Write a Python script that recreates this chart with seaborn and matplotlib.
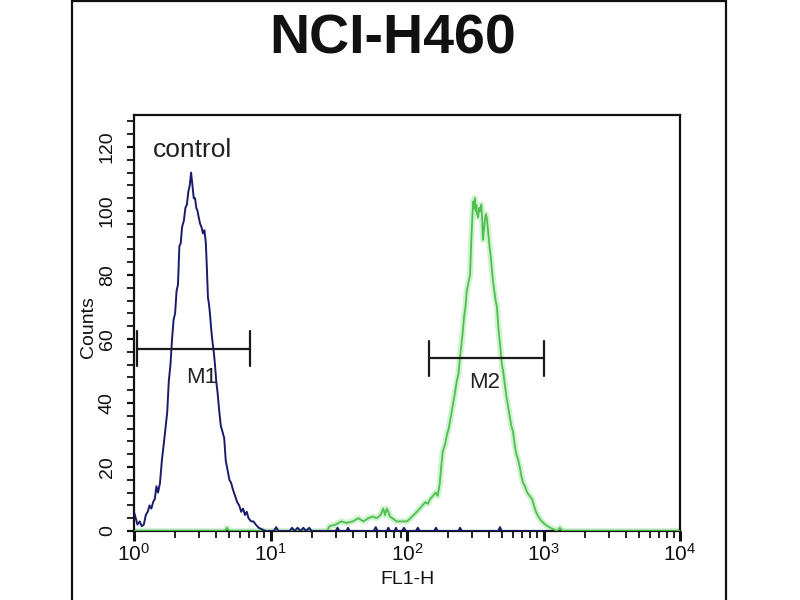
import numpy as np
import pandas as pd
import seaborn as sns
import matplotlib
matplotlib.use("Agg")
import matplotlib.pyplot as plt
from matplotlib.ticker import MultipleLocator, LogLocator, LogFormatterMathtext, NullFormatter
from matplotlib.patches import Rectangle

# ---------------- data ----------------
title = "NCI-H460"
x_label = "FL1-H"
y_label = "Counts"

# control histogram (navy)
control_fl1 = [1.00, 1.03, 1.06, 1.10, 1.14, 1.18, 1.22, 1.26, 1.30, 1.34, 1.38, 1.42, 1.46, 1.50,
               1.55, 1.60, 1.65, 1.70, 1.75, 1.80, 1.85, 1.90, 1.95, 2.00, 2.05, 2.10, 2.15, 2.20,
               2.25, 2.32, 2.38, 2.44, 2.50, 2.56, 2.62, 2.68, 2.74, 2.80, 2.86, 2.92, 2.98, 3.05,
               3.12, 3.20, 3.28, 3.36, 3.42, 3.48, 3.54, 3.60, 3.68, 3.76, 3.84, 3.92, 4.00, 4.10,
               4.20, 4.32, 4.45, 4.58, 4.70, 4.85, 5.00, 5.15, 5.30, 5.50, 5.70, 5.90, 6.10, 6.30,
               6.50, 6.70, 6.90, 7.20, 7.50, 7.80, 8.20, 8.70, 9.20,
               10.6, 11.0, 11.4, 13.8, 14.4, 15.0, 15.8, 16.6, 17.4, 18.2, 19.2, 20.0, 30.0, 31.0,
               32.0, 36.0, 37.0, 38.0, 57.0, 59.0, 61.0, 71.0, 73.0, 75.0, 81.0, 83.0, 85.0, 92.0,
               95.0, 98.0, 116.0, 120.0, 124.0, 158.0, 163.0, 168.0, 238.0, 245.0, 252.0, 465.0,
               480.0, 495.0, 1100.0]
control_counts = [6, 4, 2, 3, 1.5, 2, 5, 6, 8, 7, 9, 10, 14, 12,
                  15, 22, 27, 32, 37, 47, 52, 60, 66, 68, 75, 77, 89, 90,
                  95, 97, 101, 102, 106, 108, 112, 108, 104, 104, 101, 100, 98, 96,
                  95, 93, 94, 90, 82, 73, 71, 68, 63, 59, 56, 52, 47, 43,
                  38, 33, 31, 29, 22, 19, 16, 15, 13, 11, 9, 8, 6, 7,
                  5, 6, 4, 3, 3, 2, 1, 0.5, 0,
                  0, 1.2, 0, 0, 1, 0, 1, 0, 1, 0, 1, 0, 0, 1,
                  0, 0, 1, 0, 0, 1.2, 0, 0, 1, 0, 0, 1, 0, 0,
                  1, 0, 0, 1, 0, 0, 1, 0, 0, 1, 0, 0,
                  1.2, 0, 0]

# stained sample histogram (green)
sample_fl1 = [1.0, 4.6, 4.8, 5.0, 26, 27, 30, 33, 36, 40, 44, 48, 52, 56, 60, 64, 67, 69, 71, 73,
              75, 78, 84, 92, 100, 106, 112, 118, 124, 130, 136, 142, 148, 155, 162, 168, 174, 178,
              183, 190, 196, 202, 208, 214, 220, 226, 232, 238, 244, 250, 256, 262, 268, 274, 280,
              286, 290, 294, 298, 302, 306, 310, 314, 318, 322, 326, 332, 338, 344, 350, 356, 360,
              366, 372, 378, 384, 390, 396, 402, 410, 418, 427, 436, 446, 456, 466, 476, 486, 496,
              506, 520, 535, 550, 565, 580, 598, 615, 632, 650, 670, 690, 710, 731, 760, 790, 824,
              850, 880, 911, 950, 1000, 1061, 1120, 1180, 1256, 1320, 1380, 10000]
sample_counts = [0, 0, 1, 0, 0, 1.5, 2, 3, 2.5, 3, 4, 3, 4, 4.5, 4, 5, 7, 5, 7, 6,
                 4.5, 4, 3, 3, 3, 4, 5, 6, 7, 8, 9, 8.5, 10, 11, 12, 11, 15, 20,
                 25, 27, 30, 32, 35, 38, 41, 44, 47, 49, 54, 58, 62, 67, 70, 75, 77,
                 79, 80, 88, 94, 99, 103, 101, 104, 100, 102, 99, 98, 101, 100, 102, 97, 91,
                 94, 97, 99, 98, 95, 92, 89, 86, 82, 78, 75, 72, 70, 64, 60, 56, 52,
                 50, 46, 42, 39, 36, 33, 31, 27, 24, 22.5, 20, 17, 15, 14, 12, 11, 10,
                 8, 6, 4.7, 3.5, 2.5, 1.6, 1, 0.6, 0, 1, 0, 0]

# marker gates
gate_names = ["M1", "M2"]
gate_lo = [1.05, 145]
gate_hi = [7.1, 1009]
gate_y = [57, 54]
gate_half = [5.5, 5.5]
gate_label_x = [3.15, 373]
gate_label_y = [48, 46.5]

control_text = "control"
control_text_xy = (1.38, 119)

# ---------------- style ----------------
sns.set_style("ticks")
plt.rcParams["font.family"] = ["Liberation Sans", "DejaVu Sans"]
plt.rcParams["mathtext.fontset"] = "custom"
plt.rcParams["mathtext.rm"] = "Liberation Sans"
plt.rcParams["mathtext.it"] = "Liberation Sans:italic"
plt.rcParams["mathtext.bf"] = "Liberation Sans:bold"

fig = plt.figure(figsize=(8, 6), dpi=100)
fig.patch.set_facecolor("white")
ax = fig.add_axes([134 / 800, 69 / 600, 546 / 800, 416 / 600])
ax.set_facecolor("white")

ctrl = pd.DataFrame({"fl1": control_fl1, "counts": control_counts})
samp = pd.DataFrame({"fl1": sample_fl1, "counts": sample_counts})

# green halo + line
sns.lineplot(data=samp, x="fl1", y="counts", ax=ax, color="#bfeebf", linewidth=4.5,
             alpha=0.7, sort=False, estimator=None, zorder=2)
sns.lineplot(data=samp, x="fl1", y="counts", ax=ax, color="#4fbf4f", linewidth=1.3,
             sort=False, estimator=None, zorder=3)
# control
sns.lineplot(data=ctrl, x="fl1", y="counts", ax=ax, color="#1b1b6e", linewidth=1.4,
             sort=False, estimator=None, zorder=4)

# gates
for name, lo, hi, gy, hh, lx, ly in zip(gate_names, gate_lo, gate_hi, gate_y, gate_half,
                                         gate_label_x, gate_label_y):
    ax.plot([lo, hi], [gy, gy], color="#1a1a1a", lw=1.6, zorder=5)
    ax.plot([lo, lo], [gy - hh, gy + hh], color="#1a1a1a", lw=1.6, zorder=5)
    ax.plot([hi, hi], [gy - hh, gy + hh], color="#1a1a1a", lw=1.6, zorder=5)
    ax.text(lx, ly, name, ha="center", va="center", fontsize=16, color="#222222", zorder=6)

ax.text(control_text_xy[0], control_text_xy[1], control_text, ha="left", va="center",
        fontsize=19, color="#222222")

# axes
ax.set_xscale("log")
ax.set_xlim(1, 1e4)
ax.set_ylim(0, 130)
ax.xaxis.set_major_locator(LogLocator(base=10, numticks=10))
ax.xaxis.set_major_formatter(LogFormatterMathtext())
ax.xaxis.set_minor_locator(LogLocator(base=10, subs=np.arange(2, 10), numticks=20))
ax.xaxis.set_minor_formatter(NullFormatter())
ax.yaxis.set_major_locator(MultipleLocator(20))
ax.yaxis.set_minor_locator(MultipleLocator(4))

for s in ax.spines.values():
    s.set_visible(True)
    s.set_linewidth(1.6)
    s.set_color("#111111")

ax.tick_params(axis="x", which="major", direction="out", length=7, width=2.2, pad=1.5,
               labelsize=15, colors="#111111")
ax.tick_params(axis="x", which="minor", direction="out", length=5, width=1.3, colors="#111111")
ax.tick_params(axis="y", which="major", direction="out", length=5, width=1.6, pad=8,
               labelsize=14, colors="#111111")
ax.tick_params(axis="y", which="minor", direction="out", length=5, width=1.3, colors="#111111")
for lab in ax.get_yticklabels():
    lab.set_rotation(90)
    lab.set_va("center")

ax.set_xlabel(x_label, fontsize=14, color="#111111")
ax.xaxis.set_label_coords(0.5, -0.095)
ax.set_ylabel(y_label, fontsize=14, color="#111111")
ax.yaxis.set_label_coords(-0.068, 0.49)

# title
fig.text(393 / 800, 1 - 53 / 600, title, ha="center", va="baseline", fontsize=40,
         fontweight="bold", color="#111111")

# outer frame
fig.patches.append(Rectangle((72 / 800, -0.05), (726 - 72) / 800, 1.05 - 1.5 / 600,
                             transform=fig.transFigure, fill=False, edgecolor="#111111",
                             linewidth=1.6, zorder=10))

fig.savefig("out.png", dpi=100, facecolor="white")
